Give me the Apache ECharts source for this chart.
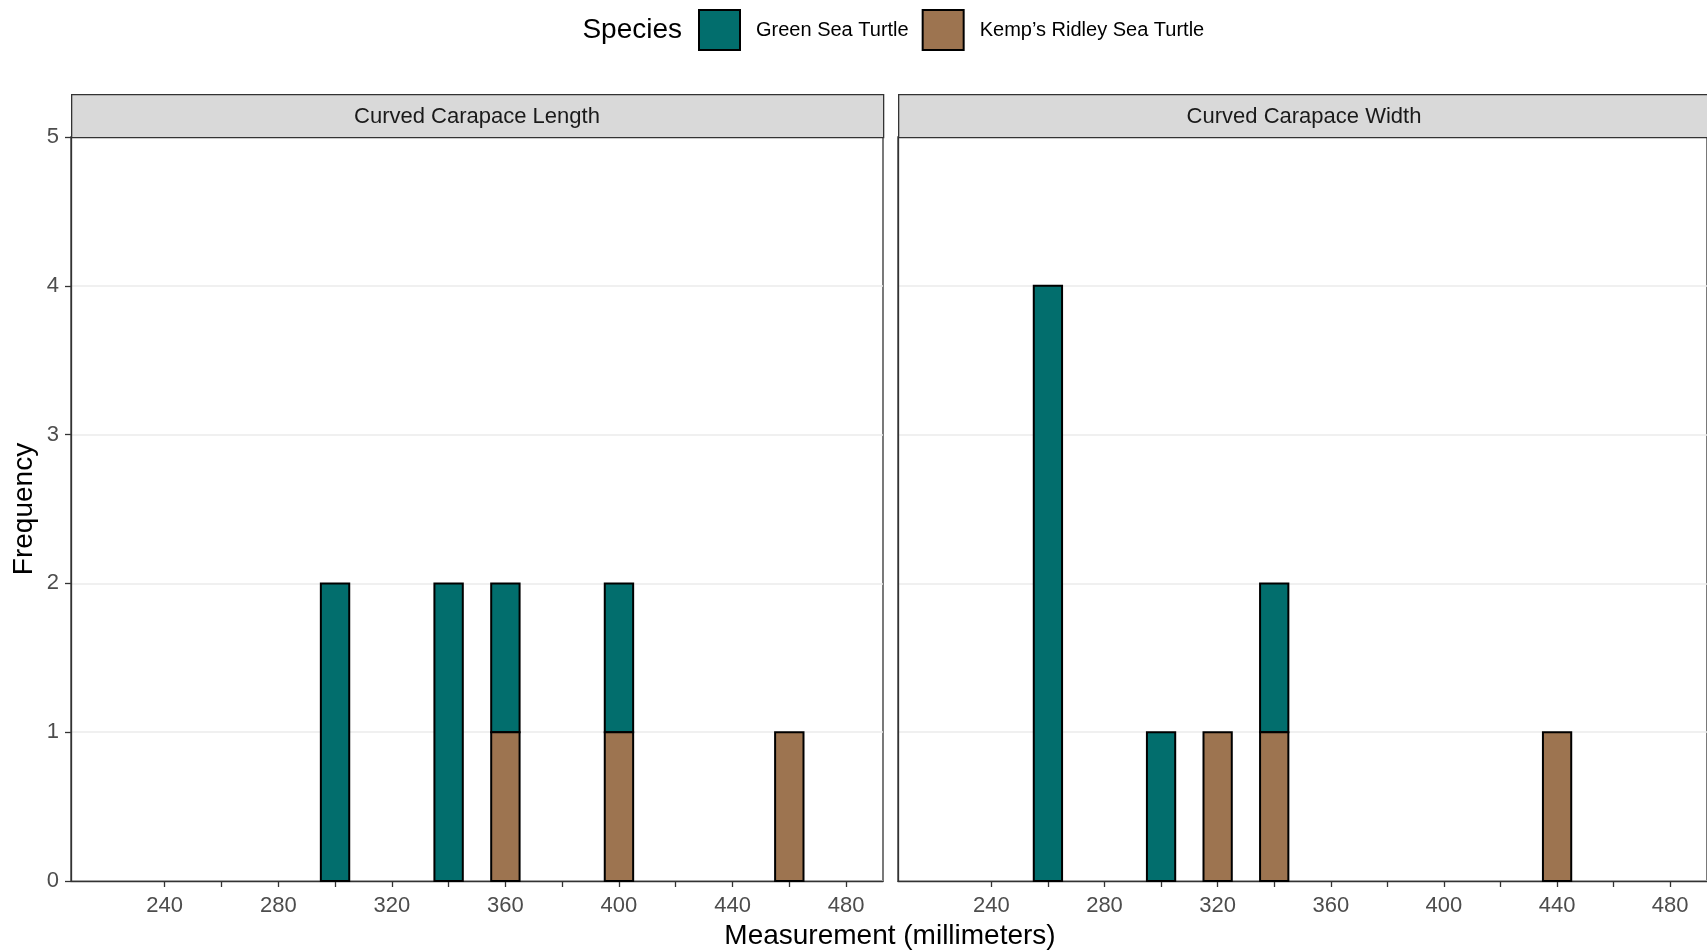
<!DOCTYPE html>
<html>
<head>
<meta charset="utf-8">
<script src="https://cdn.jsdelivr.net/npm/echarts@6/dist/echarts.min.js"></script>
<style>
html,body{margin:0;padding:0;background:#fff;}
#chart{width:1707px;height:950px;}
</style>
</head>
<body>
<div id="chart"></div>
<script>
// ---- data ----
const panels = ['Curved Carapace Length', 'Curved Carapace Width'];
const speciesNames = ['Green Sea Turtle', 'Kemp\u2019s Ridley Sea Turtle'];
const lengthBins = [300, 340, 360, 400, 460];
const lengthGreen = [2, 2, 1, 1, 0];
const lengthKemp = [0, 0, 1, 1, 1];
const widthBins = [260, 300, 320, 340, 440];
const widthGreen = [4, 1, 0, 1, 0];
const widthKemp = [0, 0, 1, 1, 1];
const binWidth = 10;
const xTickValues = [240, 260, 280, 300, 320, 340, 360, 380, 400, 420, 440, 460, 480];
const xLabelValues = [240, 280, 320, 360, 400, 440, 480];
const yTicks = [0, 1, 2, 3, 4, 5];

// ---- styles ----
const FONT = "'Liberation Sans', Arial, sans-serif";
const GREEN = '#026e6d';
const BROWN = '#9d7450';
const panelLeft = [71, 898];
const panelTop = 137;
const panelW = 812;
const panelH = 744;
const stripH = 43;

function buildData(bins, counts, bases) {
  const out = [];
  bins.forEach((b, i) => {
    if (counts[i] > 0) {
      const base = bases ? bases[i] : 0;
      out.push([b, base, base + counts[i]]);
    }
  });
  return out;
}

function renderBar(params, api) {
  const x = api.value(0), lo = api.value(1), hi = api.value(2);
  const p1 = api.coord([x - binWidth / 2, hi]);
  const p2 = api.coord([x + binWidth / 2, lo]);
  return {
    type: 'rect',
    shape: { x: p1[0], y: p1[1], width: p2[0] - p1[0], height: p2[1] - p1[1] },
    style: api.style()
  };
}

function barSeries(name, color, idx, data) {
  return {
    type: 'custom',
    name: name,
    xAxisIndex: idx,
    yAxisIndex: idx,
    renderItem: renderBar,
    encode: { x: 0, y: [1, 2] },
    itemStyle: { color: color, borderColor: '#000', borderWidth: 2 },
    data: data,
    z: 5
  };
}

const grids = panelLeft.map(l => ({
  left: l, top: panelTop, width: panelW, height: panelH,
  show: true, borderColor: '#333', borderWidth: 1.3, backgroundColor: 'transparent'
}));

const xAxes = [0, 1].map(i => ({
  type: 'value', gridIndex: i, min: 207, max: 493,
  axisLine: { show: true, onZero: false, lineStyle: { color: '#333', width: 1.3 } },
  axisTick: { show: true, length: 6, customValues: xTickValues, lineStyle: { color: '#333', width: 1.3 } },
  axisLabel: { show: true, customValues: xLabelValues, margin: 14, fontSize: 22, color: '#4d4d4d', fontFamily: FONT },
  splitLine: { show: false }
}));

const yAxes = [0, 1].map(i => ({
  type: 'value', gridIndex: i, min: 0, max: 5, interval: 1,
  axisLine: { show: true, lineStyle: { color: '#333', width: 1.3 } },
  axisTick: { show: i === 0, length: 6, lineStyle: { color: '#333', width: 1.3 } },
  axisLabel: { show: i === 0, margin: 12, fontSize: 22, color: '#4d4d4d', fontFamily: FONT },
  splitLine: { show: true, lineStyle: { color: '#ebebeb', width: 1.6 } }
}));

const graphics = [];
panelLeft.forEach((l, i) => {
  graphics.push({
    type: 'rect', left: l, top: panelTop - stripH, z: 10,
    shape: { width: panelW, height: stripH },
    style: { fill: '#d9d9d9', stroke: '#333', lineWidth: 1.3 }
  });
  graphics.push({
    type: 'text', x: l + panelW / 2, y: panelTop - stripH / 2 + 1, z: 11,
    style: { text: panels[i], fontSize: 22, fill: '#1a1a1a', fontFamily: FONT, textAlign: 'center', textVerticalAlign: 'middle' }
  });
});
graphics.push({
  type: 'text', x: 890, y: 936, z: 11,
  style: { text: 'Measurement (millimeters)', fontSize: 28, fill: '#000', fontFamily: FONT, textAlign: 'center', textVerticalAlign: 'middle' }
});
graphics.push({
  type: 'text', x: 24, y: 509, rotation: Math.PI / 2, z: 11,
  style: { text: 'Frequency', fontSize: 28, fill: '#000', fontFamily: FONT, textAlign: 'center', textVerticalAlign: 'middle' }
});
graphics.push({
  type: 'text', x: 682, y: 30, z: 11,
  style: { text: 'Species', fontSize: 28, fill: '#000', fontFamily: FONT, textAlign: 'right', textVerticalAlign: 'middle' }
});

const chart = echarts.init(document.getElementById('chart'), null, { renderer: 'canvas' });
chart.setOption({
  backgroundColor: '#fff',
  animation: false,
  textStyle: { fontFamily: FONT },
  legend: {
    data: speciesNames,
    left: 693, top: 4,
    itemWidth: 41, itemHeight: 40, itemGap: 13,
    icon: 'rect',
    itemStyle: { borderColor: '#000', borderWidth: 2 },
    textStyle: { fontSize: 20, color: '#000', fontFamily: FONT, padding: [0, 0, 0, 11] }
  },
  grid: grids,
  xAxis: xAxes,
  yAxis: yAxes,
  series: [
    barSeries(speciesNames[0], GREEN, 0, buildData(lengthBins, lengthGreen, lengthKemp)),
    barSeries(speciesNames[1], BROWN, 0, buildData(lengthBins, lengthKemp, null)),
    barSeries(speciesNames[0], GREEN, 1, buildData(widthBins, widthGreen, widthKemp)),
    barSeries(speciesNames[1], BROWN, 1, buildData(widthBins, widthKemp, null))
  ],
  graphic: graphics
});
</script>
</body>
</html>
